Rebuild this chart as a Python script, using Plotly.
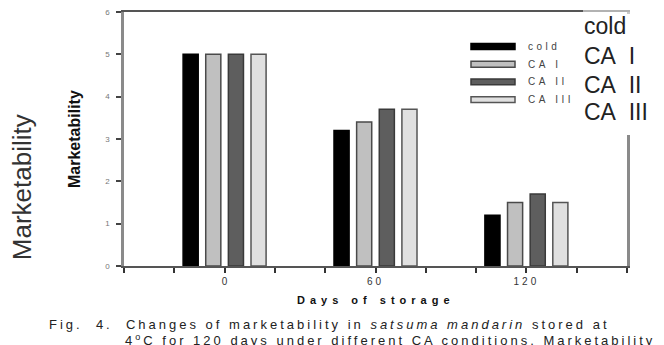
import plotly.graph_objects as go

# ---- data ----
days = ["0", "60", "120"]
group_pos = [0, 1, 2]
series_names = ["cold", "CA I", "CA II", "CA III"]
cold = [5.0, 3.2, 1.2]
ca1 = [5.0, 3.4, 1.5]
ca2 = [5.0, 3.7, 1.7]
ca3 = [5.0, 3.7, 1.5]
y_ticks = [0, 1, 2, 3, 4, 5, 6]

series_values = [cold, ca1, ca2, ca3]
fills = ["#000000", "#c0c0c0", "#5e5e5e", "#e0e0e0"]
edges = ["#000000", "#4a4a4a", "#3a3a3a", "#555555"]

W, H = 664, 345
L, R, T, B = 124, 37, 8, 79
PW, PH = W - L - R, H - T - B


def px(x):
    return (x - L) / PW


def py(y):
    return (H - B - y) / PH


FONT = "Arial, 'Liberation Sans', sans-serif"

fig = go.Figure()
for name, vals, fc, ec in zip(series_names, series_values, fills, edges):
    fig.add_trace(go.Bar(
        x=group_pos, y=vals, name=name, showlegend=False,
        marker=dict(color=fc, line=dict(color=ec, width=1.5)),
    ))

# major ticks at the groups (labelled), minor ticks every 1/3 unit
minor_vals = [i / 3 for i in range(-2, 9)]
ticktext = [d if len(d) == 1 else '<span style="letter-spacing:3px">' + d + '</span>'
            for d in days]

fig.update_layout(
    width=W, height=H, autosize=False,
    margin=dict(l=L, r=R, t=T, b=B, pad=0),
    paper_bgcolor="white", plot_bgcolor="white",
    font=dict(family=FONT),
    barmode="group", bargap=0.4, bargroupgap=0.333,
    xaxis=dict(
        range=[-2 / 3, 8 / 3], tickmode="array", tickvals=group_pos, ticktext=ticktext,
        ticks="outside", ticklen=5, tickwidth=1.5, tickcolor="#333",
        minor=dict(tickmode="array", tickvals=minor_vals, ticks="outside",
                   ticklen=5, tickwidth=1.5, tickcolor="#333", showgrid=False),
        showline=True, linecolor="#555", linewidth=2, mirror=True,
        showgrid=False, zeroline=False,
        tickfont=dict(size=10, color="#333"),
    ),
    yaxis=dict(
        range=[0, 6], tickmode="array", tickvals=y_ticks,
        ticks="outside", ticklen=5, tickwidth=1.5, tickcolor="#444",
        ticklabelstandoff=5,
        showline=True, linecolor="#8a8a8a", linewidth=2.5, mirror=True,
        showgrid=False, zeroline=False,
        tickfont=dict(size=8, color="#777"),
    ),
)

shapes = []
# white box behind the big legend on the right (hides the right axis top part)
shapes.append(dict(type="rect", xref="paper", yref="paper",
                   x0=px(581), x1=px(664), y0=py(133), y1=py(10),
                   fillcolor="white", line=dict(width=0), layer="above"))
shapes.append(dict(type="rect", xref="paper", yref="paper",
                   x0=px(583), x1=px(664), y0=py(10), y1=py(4),
                   fillcolor="white", opacity=0.55, line=dict(width=0), layer="above"))

# inner legend swatches
rows_y = [43, 61, 79, 97]
annotations = []
for name, fc, ec, ry in zip(series_names, fills, edges, rows_y):
    shapes.append(dict(type="rect", xref="paper", yref="paper",
                       x0=px(471), x1=px(515), y0=py(ry + 3), y1=py(ry - 3),
                       fillcolor=fc, line=dict(color=ec, width=1.5), layer="above"))
    annotations.append(dict(
        xref="paper", yref="paper", x=px(526), y=py(ry), xanchor="left", yanchor="middle",
        text='<span style="letter-spacing:3.5px">' + name.replace(" ", "\u00a0") + '</span>',
        showarrow=False, font=dict(size=10, color="#444")))

# big legend text on the right
big_rows = [22, 53, 82, 110]
for name, ry in zip(series_names, big_rows):
    annotations.append(dict(
        xref="paper", yref="paper", x=px(582), y=py(ry), xanchor="left", yanchor="middle",
        text=name.replace(" ", "\u00a0\u00a0"), showarrow=False,
        font=dict(size=23, color="#222")))

# axis titles
annotations.append(dict(
    xref="paper", yref="paper", x=px(74), y=py(137), xanchor="center", yanchor="middle",
    text="<b>Marketability</b>", textangle=-90, showarrow=False,
    font=dict(size=16, color="#111")))
annotations.append(dict(
    xref="paper", yref="paper", x=px(22), y=py(186), xanchor="center", yanchor="middle",
    text="Marketability", textangle=-90, showarrow=False,
    font=dict(size=26, color="#333")))
annotations.append(dict(
    xref="paper", yref="paper", x=px(376), y=py(301), xanchor="center", yanchor="middle",
    text='<span style="letter-spacing:5px"><b>Days of storage</b></span>', showarrow=False,
    font=dict(size=11, color="#111")))

# caption
annotations.append(dict(
    xref="paper", yref="paper", x=px(47), y=py(325), xanchor="left", yanchor="middle",
    text='<span style="letter-spacing:3px">Fig.\u00a0 4.\u00a0 Changes of marketability in '
         '<i>satsuma mandarin</i> stored at</span>',
    showarrow=False, font=dict(size=13, color="#222")))
annotations.append(dict(
    xref="paper", yref="paper", x=px(123), y=py(341), xanchor="left", yanchor="middle",
    text='<span style="letter-spacing:3px">4<sup>o</sup>C for 120 days under different CA '
         'conditions. Marketability</span>',
    showarrow=False, font=dict(size=13, color="#222")))

fig.update_layout(shapes=shapes, annotations=annotations)
fig.write_html("out.html")
